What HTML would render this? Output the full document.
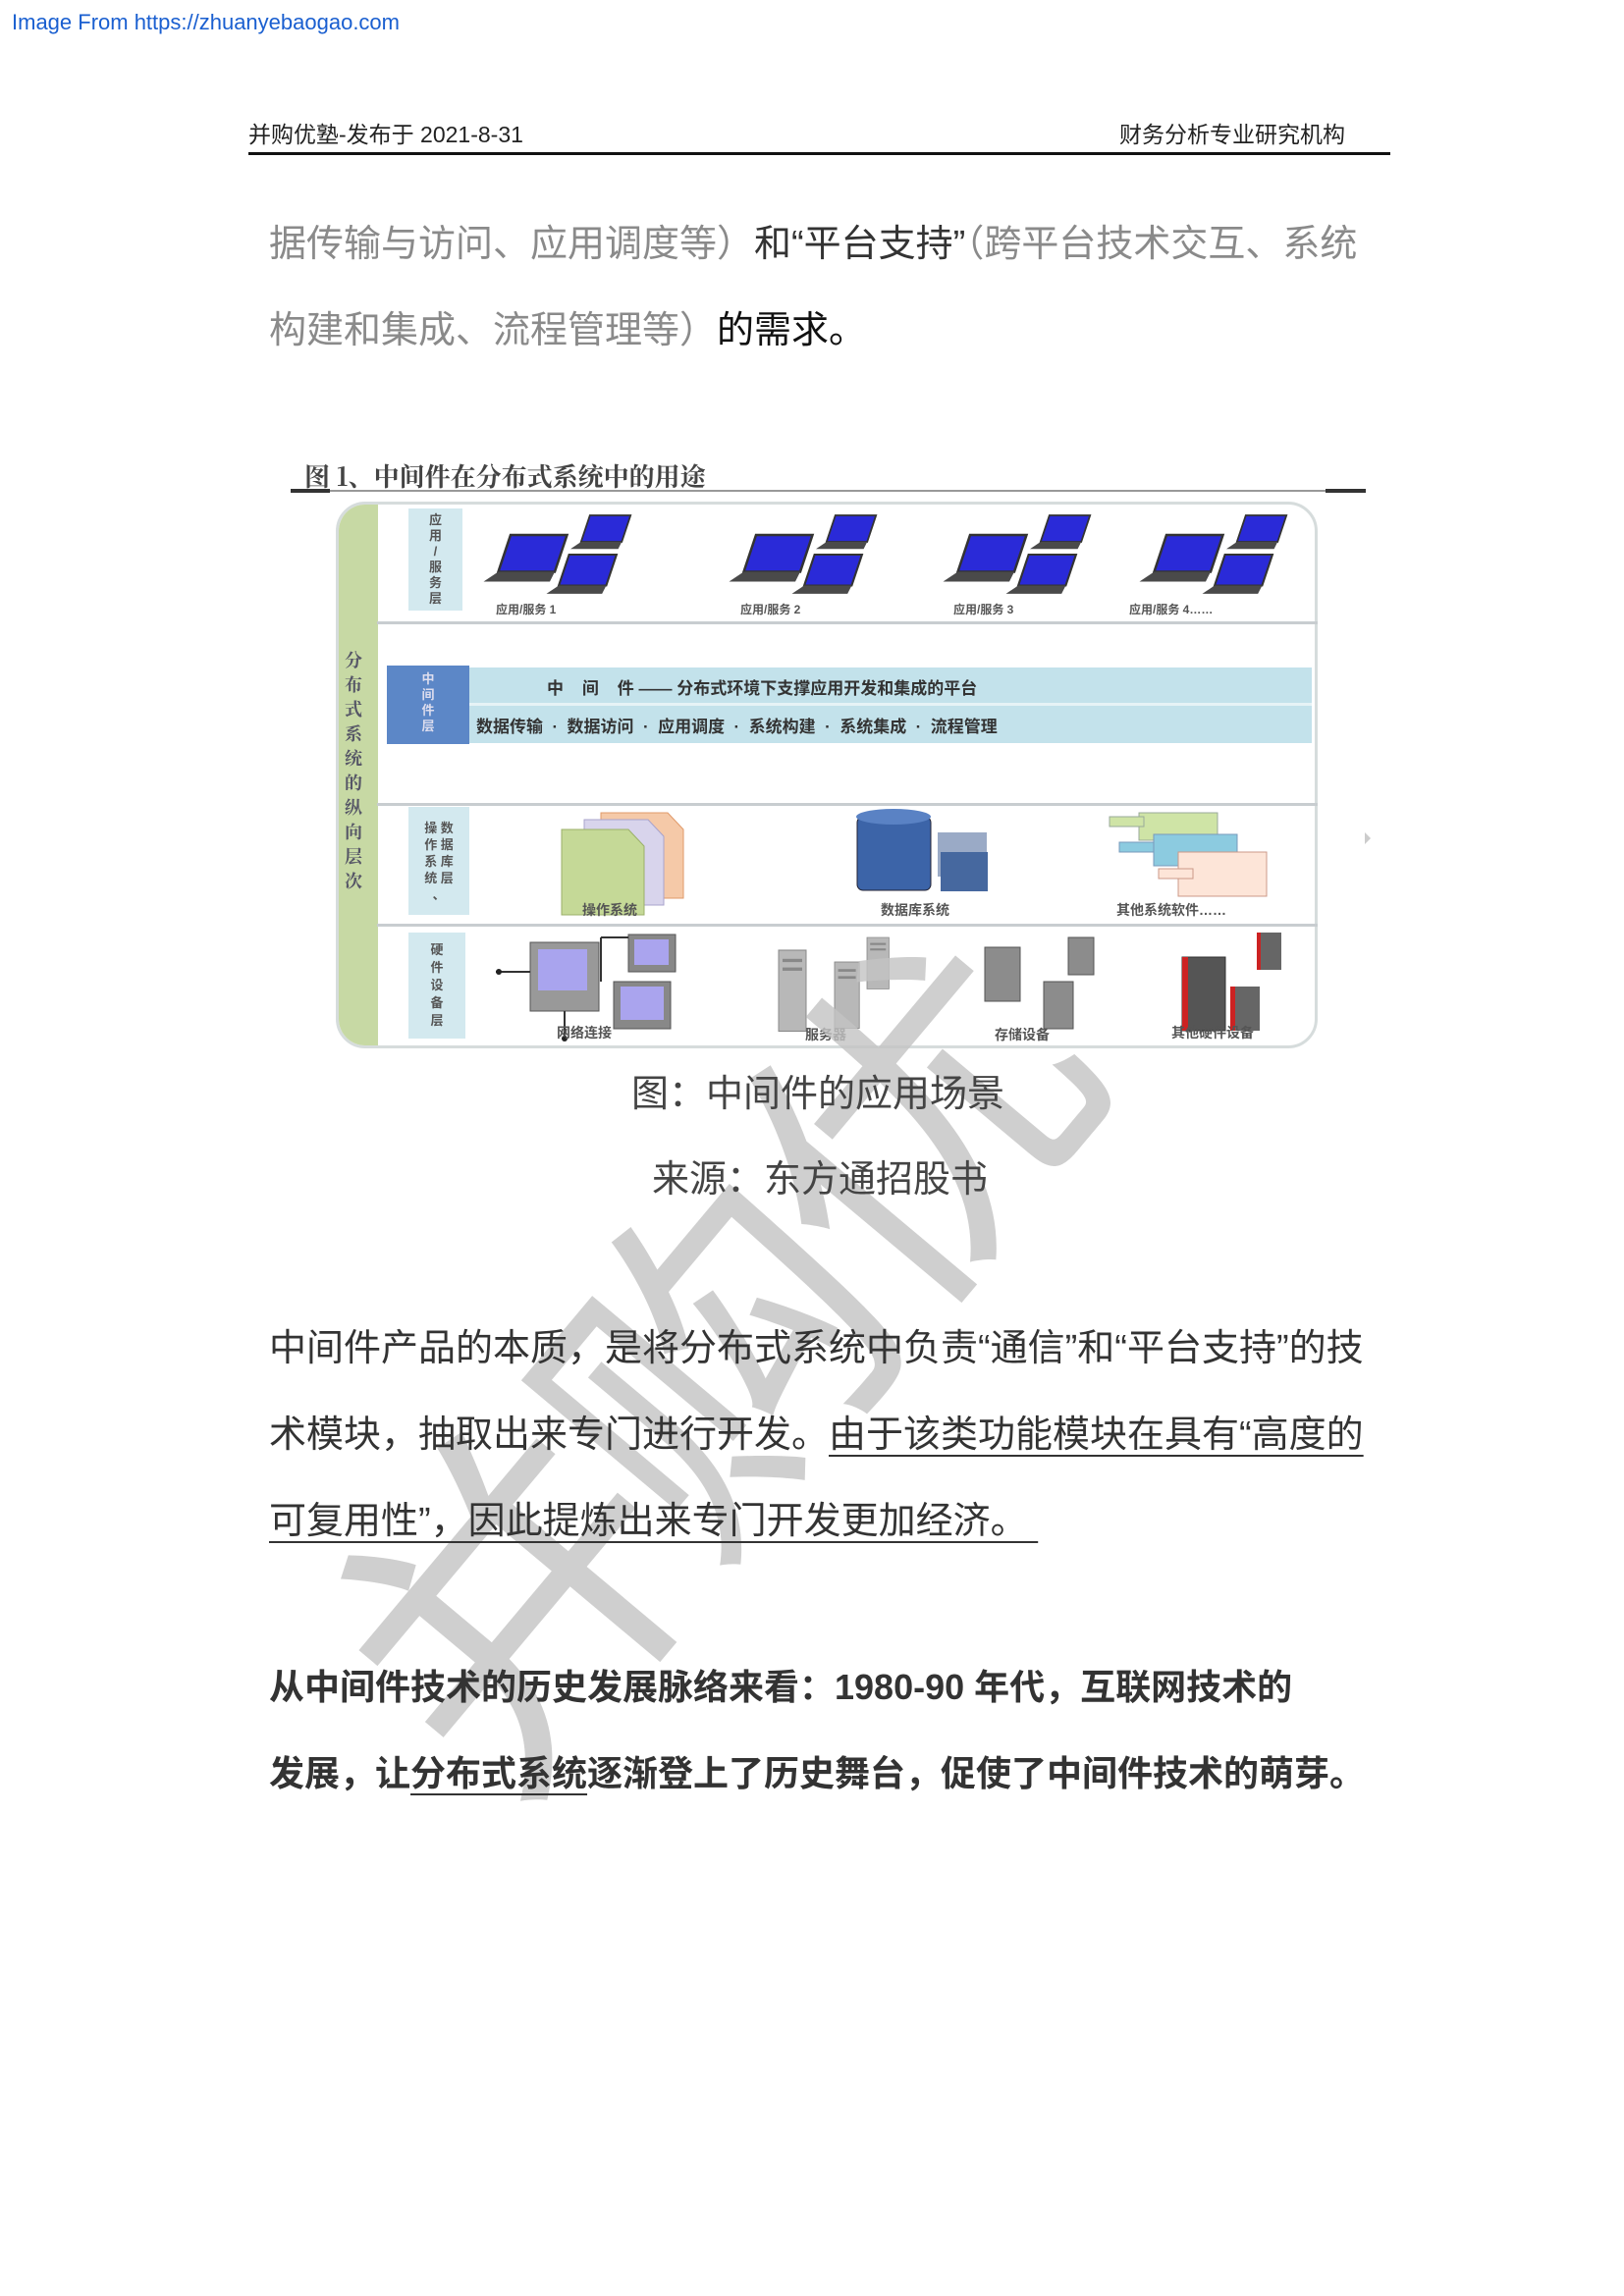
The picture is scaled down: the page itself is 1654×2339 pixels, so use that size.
<!DOCTYPE html>
<html><head><meta charset="utf-8"><style>
*{margin:0;padding:0;box-sizing:border-box}
body{width:1654px;height:2339px;background:#fff;position:relative;overflow:hidden;font-family:"Liberation Sans","Noto Sans CJK SC",sans-serif}
.a{position:absolute;white-space:nowrap}
.p{font-size:38px;color:#333}
.g{color:#8a8a8a}
.u{text-decoration:underline;text-decoration-thickness:2px;text-underline-offset:8px}
.b{font-weight:bold;color:#333;font-size:36px}
.fig{font-family:"Noto Serif CJK SC","Noto Sans CJK SC",serif;font-weight:bold;color:#444}
.lab{position:absolute;background:#d3e9ef;font-size:13px;font-weight:bold;color:#555;text-align:center;line-height:15px;display:flex;align-items:center;justify-content:center}
.cap{position:absolute;font-size:14px;font-weight:bold;color:#555;white-space:nowrap}
.hl{position:absolute;left:384px;width:958px;height:3px;background:#c8cdd0}
</style></head><body>
<div class="a" style="left:12px;top:10px;font-size:22px;color:#1a5fd0">Image From https://zhuanyebaogao.com</div>
<div class="a" style="left:253px;top:118px;font-size:23px;color:#222">并购优塾-发布于 2021-8-31</div>
<div class="a" style="left:1140px;top:118px;font-size:23px;color:#222">财务分析专业研究机构</div>
<div class="a" style="left:253px;top:155px;width:1163px;height:3px;background:#111"></div>

<div class="a p g" style="left:274px;top:217px">据传输与访问、应用调度等）<span style="color:#333">和“平台支持”</span>（跨平台技术交互、系统</div>
<div class="a p g" style="left:274px;top:305px">构建和集成、流程管理等）<span style="color:#111">的需求。</span></div>

<!-- figure -->
<div class="a fig" style="left:310px;top:466px;font-size:26px">图 1、中间件在分布式系统中的用途</div>
<div class="a" style="left:296px;top:499px;width:1095px;height:2px;background:#999"></div>
<div class="a" style="left:296px;top:498px;width:40px;height:4px;background:#333"></div>
<div class="a" style="left:1350px;top:498px;width:41px;height:4px;background:#333"></div>
<div class="a" style="left:342px;top:511px;width:1000px;height:557px;border:3px solid #d6dcdc;border-radius:30px;background:#fff;overflow:hidden">
  <div style="position:absolute;left:0;top:0;width:40px;height:100%;background:#c7d9a4"></div>
</div>
<div class="a fig" style="left:351px;top:660px;font-size:18px;line-height:25px;white-space:normal;width:22px;color:#556">分布式系统的纵向层次</div>
<div class="hl" style="top:633px"></div>
<div class="hl" style="top:818px"></div>
<div class="hl" style="top:941px"></div>

<div class="lab" style="left:416px;top:518px;width:55px;height:104px;line-height:16px">应<br>用<br>/<br>服<br>务<br>层</div>
<div class="lab" style="left:416px;top:822px;width:62px;height:110px;line-height:17px">操 数<br>作 据<br>系 库<br>统 层<br>、</div>
<div class="lab" style="left:416px;top:950px;width:58px;height:108px;line-height:18px">硬<br>件<br>设<br>备<br>层</div>

<!-- middleware -->
<div class="a" style="left:478px;top:680px;width:858px;height:77px;background:#c3e2eb"></div>
<div class="a" style="left:478px;top:716px;width:858px;height:3px;background:#e6f3f6"></div>
<div class="a" style="left:394px;top:678px;width:84px;height:80px;background:#5c87c7;color:#dde;font-size:13px;font-weight:bold;text-align:center;line-height:16px;padding-top:6px">中<br>间<br>件<br>层</div>
<div class="a" style="left:557px;top:687px;font-size:17px;font-weight:bold;color:#333">中&nbsp;&nbsp;&nbsp;&nbsp;间&nbsp;&nbsp;&nbsp;&nbsp;件 —— 分布式环境下支撑应用开发和集成的平台</div>
<div class="a" style="left:485px;top:726px;font-size:17px;font-weight:bold;color:#333">数据传输 &nbsp;·&nbsp; 数据访问 &nbsp;·&nbsp; 应用调度 &nbsp;·&nbsp; 系统构建 &nbsp;·&nbsp; 系统集成 &nbsp;·&nbsp; 流程管理</div>

<svg class="a" style="left:0;top:0" width="1654" height="1100">
<defs>
<g id="lt"><polygon points="12,0 58,0 48,30 2,30" fill="#2a2ad8" stroke="#333" stroke-width="2"/><polygon points="2,30 48,30 44,38 -10,38" fill="#4a4a4a"/></g>
<g id="grp"><use href="#lt" transform="translate(10,20) scale(1.25)"/><use href="#lt" transform="translate(95,0) scale(0.9)"/><use href="#lt" transform="translate(72,40) scale(1.05)"/></g>
<g id="srv"><rect x="0" y="0" width="28" height="75" fill="#b8b8b8" stroke="#888"/><rect x="4" y="8" width="20" height="3" fill="#888"/><rect x="4" y="16" width="20" height="3" fill="#888"/></g>
</defs>
<use href="#grp" transform="translate(495,525)"/>
<use href="#grp" transform="translate(745,525)"/>
<use href="#grp" transform="translate(963,525)"/>
<use href="#grp" transform="translate(1163,525)"/>
<polygon points="612,828 680,828 696,845 696,915 612,915" fill="#f5c9a8" stroke="#e09a6a"/>
<polygon points="595,835 660,835 676,852 676,922 595,922" fill="#d8d4ec" stroke="#a9a3cc"/>
<polygon points="572,845 640,845 656,862 656,932 572,932" fill="#c5d997" stroke="#9bb06a"/>
<rect x="873" y="832" width="75" height="75" rx="6" fill="#3c64a8" stroke="#223"/>
<ellipse cx="910" cy="832" rx="38" ry="8" fill="#5a82c4"/>
<rect x="955" y="848" width="50" height="45" fill="#9aaac6"/>
<rect x="958" y="868" width="48" height="40" fill="#46689f"/>
<rect x="1160" y="828" width="80" height="28" fill="#cfe4a6" stroke="#9a9"/>
<rect x="1175" y="850" width="85" height="32" fill="#8ccbe0" stroke="#79b"/>
<rect x="1200" y="868" width="90" height="45" fill="#fde5d8" stroke="#c98"/>
<rect x="1130" y="832" width="35" height="10" fill="#cfe4a6" stroke="#9a9"/>
<rect x="1140" y="858" width="35" height="10" fill="#8ccbe0" stroke="#79b"/>
<rect x="1180" y="885" width="35" height="10" fill="#fde5d8" stroke="#c98"/>
<rect x="540" y="960" width="70" height="70" fill="#999" stroke="#555"/>
<rect x="548" y="967" width="50" height="42" fill="#a9a4ee"/>
<rect x="640" y="952" width="48" height="38" fill="#888" stroke="#555"/>
<rect x="646" y="957" width="35" height="26" fill="#aaa4ee"/>
<rect x="625" y="1000" width="58" height="48" fill="#888" stroke="#555"/>
<rect x="632" y="1005" width="44" height="34" fill="#aaa4ee"/>
<path d="M505,990 H540 M575,1030 V1060 M612,955 H640 M612,955 V1000" stroke="#333" stroke-width="2" fill="none"/>
<circle cx="508" cy="990" r="3" fill="#222"/><circle cx="575" cy="1058" r="3" fill="#222"/>
<use href="#srv" transform="translate(793,968) scale(1,1.1)"/>
<use href="#srv" transform="translate(850,980) scale(0.9,0.9)"/>
<use href="#srv" transform="translate(883,955) scale(0.8,0.7)"/>
<rect x="1003" y="965" width="36" height="55" fill="#8c8c8c" stroke="#555"/>
<rect x="1063" y="1000" width="30" height="48" fill="#8c8c8c" stroke="#555"/>
<rect x="1088" y="955" width="26" height="38" fill="#8c8c8c" stroke="#555"/>
<rect x="1204" y="975" width="44" height="75" fill="#555" stroke="#333"/>
<rect x="1204" y="975" width="6" height="75" fill="#c22"/>
<rect x="1253" y="1005" width="30" height="45" fill="#666"/><rect x="1253" y="1005" width="5" height="45" fill="#c22"/>
<rect x="1280" y="950" width="25" height="38" fill="#666"/><rect x="1280" y="950" width="4" height="38" fill="#c22"/>
</svg>
<div class="cap" style="left:505px;top:612px;font-size:12px">应用/服务 1</div>
<div class="cap" style="left:754px;top:612px;font-size:12px">应用/服务 2</div>
<div class="cap" style="left:971px;top:612px;font-size:12px">应用/服务 3</div>
<div class="cap" style="left:1150px;top:612px;font-size:12px">应用/服务 4……</div>
<div class="cap" style="left:593px;top:917px">操作系统</div>
<div class="cap" style="left:897px;top:917px">数据库系统</div>
<div class="cap" style="left:1137px;top:917px">其他系统软件……</div>
<div class="cap" style="left:567px;top:1042px">网络连接</div>
<div class="cap" style="left:820px;top:1044px">服务器</div>
<div class="cap" style="left:1013px;top:1044px">存储设备</div>
<div class="cap" style="left:1193px;top:1042px">其他硬件设备</div>
<div class="a" style="left:1390px;top:848px;width:0;height:0;border-left:6px solid #ccc;border-top:6px solid transparent;border-bottom:6px solid transparent"></div>

<!-- watermark -->
<div class="a" style="left:730px;top:1400px;font-size:340px;line-height:1;color:rgba(195,195,195,0.8);transform:translate(-50%,-50%) rotate(-50deg);letter-spacing:-20px">并购优</div>

<div class="a p" style="left:643px;top:1083px;color:#444">图：中间件的应用场景</div>
<div class="a p" style="left:664px;top:1170px;color:#444">来源：东方通招股书</div>

<div class="a p" style="left:274px;top:1342px">中间件产品的本质，是将分布式系统中负责“通信”和“平台支持”的技</div>
<div class="a p" style="left:274px;top:1430px">术模块，抽取出来专门进行开发。<span class="u">由于该类功能模块在具有“高度的</span></div>
<div class="a p u" style="left:274px;top:1518px">可复用性”，因此提炼出来专门开发更加经济。&nbsp;</div>

<div class="a b" style="left:274px;top:1690px">从中间件技术的历史发展脉络来看：1980-90 年代，互联网技术的</div>
<div class="a b" style="left:274px;top:1778px">发展，让<span class="u">分布式系统</span>逐渐登上了历史舞台，促使了中间件技术的萌芽。</div>
</body></html>
